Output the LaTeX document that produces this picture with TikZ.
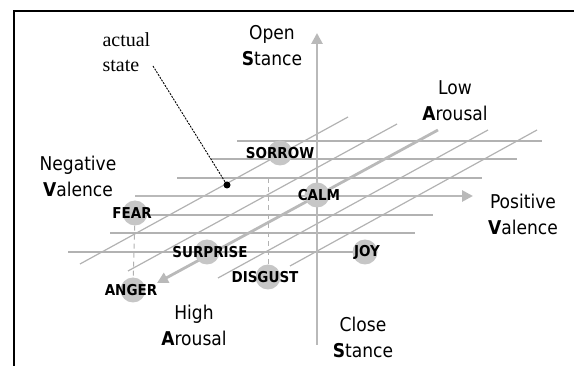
\documentclass[tikz,border=0pt]{standalone}
\usepackage{fontspec}
\setmainfont{Liberation Serif}
\setsansfont{DejaVu Sans Condensed}
\usetikzlibrary{arrows.meta, positioning}

\begin{document}
\begin{tikzpicture}[
    x=1pt, y=-1pt,
    grid/.style={draw=gray!60, line width=1.2pt},
    axis/.style={draw=gray!55, line width=2.8pt, -{Triangle[length=11pt, width=11pt]}},
    emo/.style={circle, fill=gray!45, minimum size=25pt, inner sep=0pt},
    emotext/.style={font=\sffamily\bfseries\fontsize{15}{15}\selectfont},
    axislbl/.style={align=center, font=\sffamily\fontsize{19}{26}\selectfont},
    dashline/.style={draw=gray!60, line width=1pt, dash pattern=on 5pt off 4pt}
]
    \useasboundingbox (0,0) rectangle (574,366);
    \draw[line width=2pt] (14,366) -- (14,11) -- (574,11);

    % valence lines
    \draw[grid] (237,141) -- (542,141);
    \draw[grid] (211,159) -- (517,159);
    \draw[grid] (177,178) -- (482,178);
    \draw[grid] (135,215) -- (433,215);
    \draw[grid] (110,233) -- (415,233);
    \draw[grid] (68,252) -- (355,252);

    % arousal lines
    \draw[grid] (348,117) -- (80,264);
    \draw[grid] (397,124) -- (128,271);
    \draw[grid] (488,130) -- (218,278);
    \draw[grid] (537,130) -- (290,266);

    % axes
    \draw[axis] (317,345) -- (317,33);
    \draw[axis] (135,196) -- (473,196);
    \draw[axis] (438,130) -- (157,283);

    % emotions
    \node[emo] (sorrow) at (280,153) {};
    \node[emo] (calm) at (317,195) {};
    \node[emo] (fear) at (135,213) {};
    \node[emo] (surprise) at (207,252) {};
    \node[emo] (anger) at (133,290) {};
    \node[emo] (disgust) at (268,277) {};
    \node[emo] (joy) at (365,252) {};
    \coordinate (sorrowfoot) at (268,178);

    \draw[dashline] (fear) -- (anger);
    \draw[dashline] (sorrowfoot) -- (disgust);

    \node[emotext] at (sorrow) {SORROW};
    \node[emotext] at ([xshift=2pt]calm) {CALM};
    \node[emotext] at ([xshift=-3pt]fear) {FEAR};
    \node[emotext] at ([xshift=3pt]surprise) {SURPRISE};
    \node[emotext] at ([xshift=-2pt]anger) {ANGER};
    \node[emotext] at ([xshift=-3pt]disgust) {DISGUST};
    \node[emotext] at ([xshift=2pt]joy) {JOY};

    % actual state
    \node[align=left, anchor=west, font=\fontsize{20}{25}\selectfont] (actual) at (99,52) {actual\\state};
    \coordinate (ptr) at (153,66);
    \fill (227,185) circle (3.5pt) coordinate (state);
    \draw[line width=0.9pt, dash pattern=on 2pt off 1.2pt] (ptr) -- (state);

    % axis labels
    \node[axislbl] (open) at (272,46) {Open\\\textbf{S}tance};
    \node[axislbl] (low) at (455,101) {Low\\\textbf{A}rousal};
    \node[axislbl] (negval) at (78,176) {Negative\\\textbf{V}alence};
    \node[axislbl] (posval) at (523,214) {Positive\\\textbf{V}alence};
    \node[axislbl] (high) at (194,325) {High\\\textbf{A}rousal};
    \node[axislbl] (close) at (363,337) {Close\\\textbf{S}tance};
\end{tikzpicture}
\end{document}
